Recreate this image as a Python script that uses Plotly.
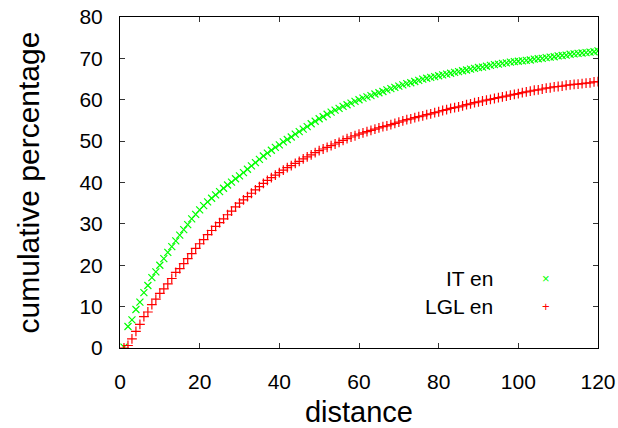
import plotly.graph_objects as go

distance = list(range(1, 121))

it_en = [
    0.2, 5.2, 6.8, 9.3, 11.1, 13.4, 15.1, 17.0, 18.4, 20.0,
    21.6, 23.1, 24.5, 25.9, 27.3, 28.6, 29.8, 31.2, 32.3, 33.4,
    34.4, 35.3, 36.2, 37.0, 37.8, 38.6, 39.4, 40.1, 40.9, 41.6,
    42.4, 43.2, 44.0, 44.8, 45.6, 46.4, 47.1, 47.8, 48.5, 49.1,
    49.8, 50.4, 51.0, 51.7, 52.3, 52.9, 53.5, 54.2, 54.8, 55.4,
    55.9, 56.5, 57.0, 57.5, 57.9, 58.4, 58.8, 59.2, 59.6, 60.0,
    60.4, 60.7, 61.0, 61.4, 61.7, 62.0, 62.4, 62.7, 63.0, 63.3,
    63.6, 63.9, 64.1, 64.4, 64.7, 65.0, 65.2, 65.4, 65.6, 65.8,
    66.0, 66.2, 66.4, 66.6, 66.8, 67.0, 67.2, 67.4, 67.6, 67.8,
    67.9, 68.1, 68.3, 68.5, 68.6, 68.8, 68.9, 69.1, 69.2, 69.3,
    69.4, 69.5, 69.6, 69.8, 69.9, 70.0, 70.2, 70.3, 70.4, 70.6,
    70.7, 70.8, 71.0, 71.1, 71.2, 71.3, 71.4, 71.5, 71.6, 71.8,
]

lgl_en = [
    0.0, 0.6, 2.2, 4.0, 5.7, 7.6, 8.7, 10.5, 11.8, 13.2,
    14.3, 15.5, 16.8, 18.3, 19.2, 20.4, 21.6, 22.8, 24.1, 25.2,
    26.2, 27.4, 28.4, 29.4, 30.3, 31.2, 32.2, 33.1, 34.1, 35.0,
    35.8, 36.6, 37.4, 38.2, 39.0, 39.8, 40.5, 41.2, 41.8, 42.4,
    43.0, 43.6, 44.1, 44.6, 45.1, 45.7, 46.2, 46.7, 47.2, 47.7,
    48.1, 48.5, 48.9, 49.3, 49.7, 50.2, 50.6, 51.0, 51.3, 51.7,
    52.0, 52.3, 52.6, 52.9, 53.2, 53.5, 53.7, 54.0, 54.3, 54.6,
    54.9, 55.2, 55.4, 55.7, 55.9, 56.1, 56.4, 56.6, 56.9, 57.1,
    57.4, 57.6, 57.9, 58.1, 58.3, 58.5, 58.8, 59.0, 59.3, 59.5,
    59.7, 59.9, 60.1, 60.3, 60.5, 60.7, 60.9, 61.1, 61.3, 61.5,
    61.7, 61.9, 62.1, 62.3, 62.4, 62.6, 62.8, 62.9, 63.1, 63.2,
    63.3, 63.5, 63.6, 63.7, 63.8, 63.9, 64.0, 64.1, 64.3, 64.4,
]

x_ticks = [0, 20, 40, 60, 80, 100, 120]
y_ticks = [0, 10, 20, 30, 40, 50, 60, 70, 80]

GREEN = "#00ff00"
RED = "#ff0000"
FONT = "Liberation Sans, Arial, sans-serif"

fig = go.Figure()
fig.add_trace(go.Scatter(
    x=distance, y=it_en, mode="markers", name="IT en",
    marker=dict(symbol="x-thin", size=7, color=GREEN, line=dict(width=1.2, color=GREEN)),
    showlegend=False,
))
fig.add_trace(go.Scatter(
    x=distance, y=lgl_en, mode="markers", name="LGL en",
    marker=dict(symbol="cross-thin", size=7, color=RED, line=dict(width=1.2, color=RED)),
    showlegend=False,
))

axis_common = dict(
    showgrid=False, zeroline=False,
    showline=True, linecolor="black", linewidth=1, mirror="allticks",
    ticks="inside", ticklen=5, tickcolor="#333333", tickwidth=1,
    tickfont=dict(family=FONT, size=21, color="black"),
    ticklabeloverflow="allow",
)

fig.update_xaxes(range=[0, 120], tickvals=x_ticks, ticklabelstandoff=15,
                 title=dict(text="distance", font=dict(family=FONT, size=29, color="black"), standoff=11),
                 **axis_common)
fig.update_yaxes(range=[0, 80], tickvals=y_ticks, ticklabelstandoff=12,
                 title=dict(text="cumulative percentage", font=dict(family=FONT, size=30, color="black"), standoff=30),
                 **axis_common)

# gnuplot-style key: right-aligned text with sample to its right
legend_rows = [("IT en", "×", GREEN, 0.2085), ("LGL en", "+", RED, 0.1239)]
for label, sym, col, yy in legend_rows:
    fig.add_annotation(xref="paper", yref="paper", x=0.7845, y=yy, text=label,
                       showarrow=False, xanchor="right", yanchor="middle",
                       font=dict(family=FONT, size=21, color="black"))
    fig.add_annotation(xref="paper", yref="paper", x=0.891, y=yy, text=sym,
                       showarrow=False, xanchor="center", yanchor="middle",
                       font=dict(family=FONT, size=13, color=col))

fig.update_layout(
    width=618, height=428,
    margin=dict(l=120, r=20, t=17, b=80, autoexpand=False),
    plot_bgcolor="white", paper_bgcolor="white",
    font=dict(family=FONT, color="black"),
)

# remove the default page margin so the figure fills the window exactly
fig.write_html("out.html",
               config={"displayModeBar": False},
               post_script="document.body.style.margin='0';document.body.style.overflow='hidden';")
